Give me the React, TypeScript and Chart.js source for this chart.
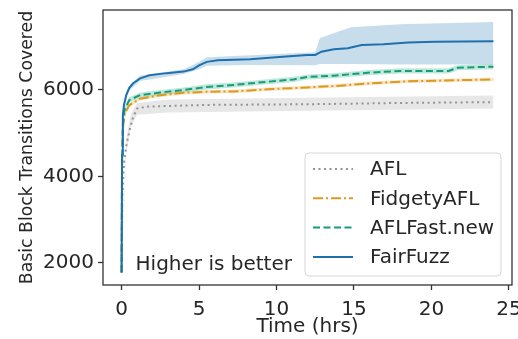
import React, { useEffect, useRef } from "react";
import { Chart, registerables } from "chart.js";

Chart.register(...registerables);

// ---- data (time in hours, value = basic block transitions covered) ----
const seriesNames = ["AFL", "FidgetyAFL", "AFLFast.new", "FairFuzz"];

const aflT = [0, 0.05, 0.15, 0.3, 0.5, 0.75, 1.0, 1.6, 3, 5.5, 12, 18, 24];
const aflV = [1780, 3500, 4300, 4700, 5050, 5380, 5570, 5615, 5630, 5655, 5670, 5700, 5720];
const aflBandT = [0, 0.3, 0.6, 1.0, 3, 12, 24];
const aflLow = [1780, 4550, 5150, 5430, 5480, 5520, 5570];
const aflHigh = [1780, 4850, 5450, 5700, 5780, 5820, 5870];

const fidT = [0, 0.03, 0.08, 0.2, 0.5, 1.2, 2.5, 4, 5.5, 7.2, 9.4, 12, 13.7, 15.9, 18.5, 24];
const fidV = [1780, 4200, 5100, 5450, 5650, 5800, 5880, 5935, 5960, 5965, 6015, 6060, 6090, 6150, 6200, 6245];
const fidLow = [1780, 4150, 5050, 5400, 5605, 5760, 5840, 5895, 5920, 5925, 5975, 6020, 6050, 6110, 6160, 6205];
const fidHigh = [1780, 4250, 5150, 5500, 5695, 5840, 5920, 5975, 6000, 6005, 6055, 6100, 6130, 6190, 6240, 6285];

const fastT = [0, 0.03, 0.08, 0.2, 0.5, 1.2, 2.5, 4, 5.5, 7.2, 9.4, 11.1, 12, 13.7, 15.9, 18, 21.1, 21.7, 24];
const fastV = [1780, 4300, 5200, 5550, 5770, 5880, 5940, 6000, 6070, 6115, 6190, 6245, 6300, 6330, 6400, 6440, 6440, 6515, 6540];
const fastLow = [1780, 4250, 5140, 5490, 5710, 5820, 5880, 5940, 6010, 6055, 6130, 6185, 6240, 6270, 6340, 6380, 6380, 6455, 6480];
const fastHigh = [1780, 4350, 5260, 5610, 5830, 5940, 6000, 6060, 6130, 6175, 6250, 6305, 6360, 6390, 6460, 6500, 6500, 6575, 6600];

const fairT = [0, 0.03, 0.08, 0.15, 0.3, 0.5, 0.75, 1.2, 1.8, 2.9, 4.0, 4.6, 5.0, 5.5, 6.2, 8.3, 10.4, 12.0, 12.5, 12.9, 13.7, 14.6, 15.5, 16.9, 18.5, 20.2, 24];
const fairV = [1780, 4500, 5400, 5650, 5880, 6050, 6155, 6270, 6340, 6390, 6425, 6480, 6570, 6650, 6690, 6710, 6770, 6808, 6810, 6885, 6940, 6965, 7040, 7060, 7100, 7115, 7130];
const fairBandT = [0, 0.08, 0.3, 0.5, 1.2, 4, 5, 5.5, 8, 12.5, 12.8, 14.8, 18, 24];
const fairLow = [1780, 5330, 5810, 5990, 6210, 6370, 6480, 6560, 6580, 6570, 6600, 6600, 6590, 6590];
const fairHigh = [1780, 5470, 5950, 6110, 6330, 6480, 6650, 6760, 6800, 6870, 7200, 7450, 7520, 7570];

const xTicks = [0, 5, 10, 15, 20, 25];
const yTicks = [2000, 4000, 6000];

const colors = ["#949494", "#de9a1c", "#159e78", "#1f70ad"];
const bandColors = [
  "rgba(160,160,160,0.25)",
  "rgba(222,154,28,0.25)",
  "rgba(2,158,115,0.25)",
  "rgba(31,119,180,0.25)",
];
const dashes = [[2, 3.5], [10, 3, 2, 3], [7, 3.5], []];

const pts = (t: number[], v: number[]) => t.map((x, i) => ({ x, y: v[i] }));

const FONT = "'DejaVu Sans', sans-serif";

export default function App() {
  const ref = useRef<HTMLCanvasElement | null>(null);

  useEffect(() => {
    document.body.style.margin = "0";
    const canvas = ref.current;
    if (!canvas) return;

    const bands = [
      [aflBandT, aflLow, aflHigh],
      [fidT, fidLow, fidHigh],
      [fastT, fastLow, fastHigh],
      [fairBandT, fairLow, fairHigh],
    ] as [number[], number[], number[]][];
    const lines = [
      [aflT, aflV],
      [fidT, fidV],
      [fastT, fastV],
      [fairT, fairV],
    ] as [number[], number[]][];

    const datasets: any[] = [];
    bands.forEach(([t, lo, hi], i) => {
      datasets.push({
        label: "lo" + i,
        data: pts(t, lo),
        borderWidth: 0,
        borderColor: "rgba(0,0,0,0)",
        pointRadius: 0,
        fill: false,
        order: 20,
      });
      datasets.push({
        label: "hi" + i,
        data: pts(t, hi),
        borderWidth: 0,
        borderColor: "rgba(0,0,0,0)",
        backgroundColor: bandColors[i],
        pointRadius: 0,
        fill: "-1",
        order: 20,
      });
    });
    lines.forEach(([t, v], i) => {
      datasets.push({
        label: seriesNames[i],
        data: pts(t, v),
        borderColor: colors[i],
        borderWidth: 2,
        borderDash: dashes[i],
        pointRadius: 0,
        fill: false,
        order: 4 - i,
      });
    });

    const overlay = {
      id: "overlay",
      afterDraw(chart: any) {
        const ctx = chart.ctx;
        const a = chart.chartArea;
        ctx.save();
        // frame (spines)
        ctx.strokeStyle = "#333333";
        ctx.lineWidth = 1.3;
        ctx.strokeRect(a.left, a.top, a.right - a.left, a.bottom - a.top);

        // annotation text
        const xs = chart.scales.x;
        const ys = chart.scales.y;
        ctx.fillStyle = "#262626";
        ctx.font = `20px ${FONT}`;
        ctx.textBaseline = "middle";
        ctx.textAlign = "left";
        ctx.fillText("Higher is better", xs.getPixelForValue(0.9), ys.getPixelForValue(1960));

        // legend
        const bx = a.right - 207;
        const by = a.bottom - 132;
        const bw = 196;
        const bh = 123;
        const r = 4;
        ctx.beginPath();
        ctx.moveTo(bx + r, by);
        ctx.lineTo(bx + bw - r, by);
        ctx.quadraticCurveTo(bx + bw, by, bx + bw, by + r);
        ctx.lineTo(bx + bw, by + bh - r);
        ctx.quadraticCurveTo(bx + bw, by + bh, bx + bw - r, by + bh);
        ctx.lineTo(bx + r, by + bh);
        ctx.quadraticCurveTo(bx, by + bh, bx, by + bh - r);
        ctx.lineTo(bx, by + r);
        ctx.quadraticCurveTo(bx, by, bx + r, by);
        ctx.closePath();
        ctx.fillStyle = "rgba(255,255,255,0.85)";
        ctx.fill();
        ctx.strokeStyle = "#d6d6d6";
        ctx.lineWidth = 1;
        ctx.stroke();

        seriesNames.forEach((name, i) => {
          const cy = by + 16 + i * 29.3;
          ctx.beginPath();
          ctx.setLineDash(dashes[i]);
          ctx.strokeStyle = colors[i];
          ctx.lineWidth = 2;
          ctx.moveTo(bx + 8, cy);
          ctx.lineTo(bx + 48, cy);
          ctx.stroke();
          ctx.setLineDash([]);
          ctx.fillStyle = "#262626";
          ctx.font = `20px ${FONT}`;
          ctx.fillText(name, bx + 65, cy + 1);
        });
        ctx.restore();
      },
    };

    const chart = new Chart(canvas, {
      type: "line",
      data: { datasets },
      options: {
        animation: false,
        responsive: false,
        maintainAspectRatio: false,
        layout: { padding: { top: 10, right: 6, left: 0, bottom: 0 } },
        plugins: {
          legend: { display: false },
          tooltip: { enabled: false },
          title: { display: false },
        },
        elements: { line: { tension: 0 } },
        scales: {
          x: {
            type: "linear",
            min: -1.2,
            max: 25.2,
            afterBuildTicks: (s: any) => {
              s.ticks = xTicks.map((v) => ({ value: v }));
            },
            afterFit: (s: any) => {
              s.height = 54;
              s.paddingLeft = 0;
              s.paddingRight = 0;
            },
            grid: {
              drawOnChartArea: false,
              drawTicks: true,
              tickLength: 5,
              tickWidth: 1.3,
              tickColor: "#333333",
            },
            border: { display: false },
            ticks: {
              color: "#262626",
              font: { family: FONT, size: 20 },
              padding: 8,
              maxRotation: 0,
              autoSkip: false,
              callback: (v: any) => String(v),
            },
            title: {
              display: true,
              text: "Time (hrs)",
              color: "#262626",
              font: { family: FONT, size: 20 },
              padding: { top: 0, bottom: 0 },
            },
          },
          y: {
            type: "linear",
            min: 1490,
            max: 7850,
            afterBuildTicks: (s: any) => {
              s.ticks = yTicks.map((v) => ({ value: v }));
            },
            afterFit: (s: any) => {
              s.width = 103;
              s.paddingTop = 0;
              s.paddingBottom = 0;
            },
            grid: {
              drawOnChartArea: false,
              drawTicks: true,
              tickLength: 5,
              tickWidth: 1.3,
              tickColor: "#333333",
            },
            border: { display: false },
            ticks: {
              color: "#262626",
              font: { family: FONT, size: 20 },
              padding: 4,
              autoSkip: false,
              callback: (v: any) => String(v),
            },
            title: {
              display: true,
              text: "Basic Block Transitions Covered",
              color: "#262626",
              font: { family: FONT, size: 17.3 },
              padding: { top: 17, bottom: 0 },
            },
          },
        },
      },
      plugins: [overlay],
    });

    return () => chart.destroy();
  }, []);

  return (
    <div style={{ width: 518, height: 339, background: "#fff" }}>
      <canvas ref={ref} width={518} height={339} style={{ display: "block" }} />
    </div>
  );
}
